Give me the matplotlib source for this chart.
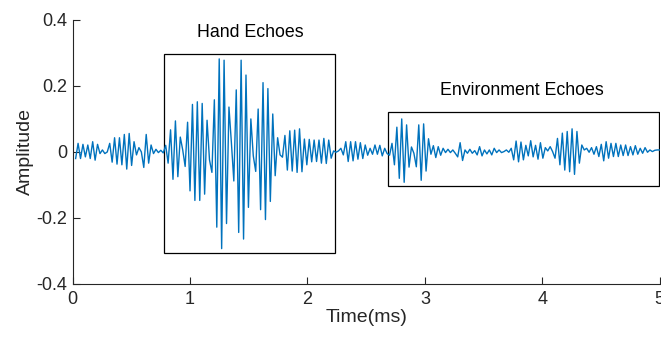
import numpy as np
import matplotlib
matplotlib.use('Agg')
from matplotlib import pyplot as plt
from matplotlib.patches import Rectangle

amplitude = [
    -0.02, 0.026, -0.02, 0.023, -0.015, 0.021, -0.02, 0.031, -0.025, 0.023,
    -0.005, 0.006, -0.005, 0.0, 0.026, -0.031, 0.043, -0.037, 0.043, -0.039,
    0.053, -0.052, 0.056, -0.041, 0.031, -0.009, 0.013, 0.0, -0.047, 0.053,
    -0.034, 0.021, -0.005, 0.008, -0.002, 0.005, -0.003, 0.02, -0.034, 0.067,
    -0.083, 0.094, -0.075, 0.045, 0.006, -0.044, 0.09, -0.118, 0.144, -0.147,
    0.152, -0.147, 0.147, -0.128, 0.096, -0.024, -0.062, 0.158, -0.228, 0.282,
    -0.293, 0.278, -0.217, 0.136, 0.028, -0.088, 0.188, -0.244, 0.278, -0.264,
    0.233, -0.168, 0.1, -0.012, -0.059, 0.13, -0.175, 0.21, -0.205, 0.192,
    -0.15, 0.115, -0.072, 0.043, -0.009, -0.016, 0.05, -0.055, 0.064, -0.058,
    0.066, -0.062, 0.07, -0.06, 0.039, -0.039, 0.038, -0.03, 0.036, -0.029,
    0.036, -0.034, 0.041, -0.035, 0.036, -0.019, 0.003, -0.001, 0.003, 0.011,
    -0.009, 0.031, -0.029, 0.031, -0.027, 0.031, -0.022, 0.028, -0.02, 0.021,
    -0.01, 0.011, -0.007, 0.021, -0.007, 0.02, -0.012, 0.011, -0.005, -0.01,
    0.026, -0.039, 0.075, -0.08, 0.1, -0.092, 0.082, -0.046, 0.015, -0.004,
    -0.045, 0.082, -0.086, 0.085, -0.058, 0.04, -0.007, 0.019, -0.017, 0.016,
    -0.01, 0.011, -0.002, 0.008, -0.002, 0.006, -0.004, -0.015, 0.028, -0.026,
    0.006, -0.004, 0.008, -0.004, 0.004, -0.009, 0.016, -0.012, 0.006, -0.006,
    0.006, -0.009, 0.011, -0.002, 0.006, -0.002, 0.001, 0.006, -0.001, 0.011,
    -0.024, 0.033, -0.03, 0.03, -0.024, 0.02, -0.012, 0.034, -0.015, 0.02,
    -0.022, 0.028, -0.019, 0.013, 0.003, 0.016, 0.001, -0.019, 0.041, -0.039,
    0.057, -0.055, 0.062, -0.06, 0.07, -0.068, 0.062, -0.034, 0.021, 0.006,
    0.011, -0.001, 0.013, -0.007, 0.016, -0.014, 0.023, -0.027, 0.031, -0.019,
    0.026, -0.014, 0.026, -0.014, 0.021, -0.011, 0.021, -0.011, 0.016, -0.009,
    0.019, -0.007, 0.011, -0.004, 0.013, -0.001, 0.006, 0.001, 0.005, 0.006,
    0.006,
]
T_START, T_END = 0.025, 5.0  # ms, first and last sample

x_ticks = [0, 1, 2, 3, 4, 5]
y_ticks = [-0.4, -0.2, 0, 0.2, 0.4]
y_tick_labels = ['-0.4', '-0.2', '0', '0.2', '0.4']

# annotation boxes: (t0, t1, a0, a1, label, label_t, label_a)
boxes = [
    (0.775, 2.232, -0.306, 0.297, 'Hand Echoes', 1.51, 0.362),
    (2.683, 4.99, -0.103, 0.121, 'Environment Echoes', 3.83, 0.185),
]

plt.rcParams['font.family'] = ['Liberation Sans', 'DejaVu Sans']

if __name__ == '__main__':
    t = np.linspace(T_START, T_END, len(amplitude))

    fig = plt.figure(figsize=(6.61, 3.38), dpi=100)
    ax = fig.add_axes([0.110, 0.160, 0.888, 0.781])

    ax.plot(t, amplitude, color='#0072BD', linewidth=1.0)

    for t0, t1, a0, a1, label, lt, la in boxes:
        ax.add_patch(Rectangle((t0, a0), t1 - t0, a1 - a0, fill=False,
                               edgecolor='black', linewidth=0.9))
        ax.text(lt, la, label, ha='center', va='center', fontsize=12.8,
                color='black')

    ax.set_xlim(0, 5)
    ax.set_ylim(-0.4, 0.4)
    ax.set_xticks(x_ticks)
    ax.set_yticks(y_ticks)
    ax.set_yticklabels(y_tick_labels)
    ax.tick_params(direction='in', length=5, width=0.8, labelsize=13,
                   colors='#262626')
    ax.tick_params(axis='x', pad=5)
    ax.tick_params(axis='y', pad=4)
    for side in ['top', 'right']:
        ax.spines[side].set_visible(False)
    for side in ['left', 'bottom']:
        ax.spines[side].set_color('#262626')
        ax.spines[side].set_linewidth(0.8)

    ax.set_xlabel('Time(ms)', fontsize=14, color='#262626', labelpad=1)
    ax.set_ylabel('Amplitude', fontsize=14, color='#262626', labelpad=2)

    plt.savefig('out.png', dpi=100)
